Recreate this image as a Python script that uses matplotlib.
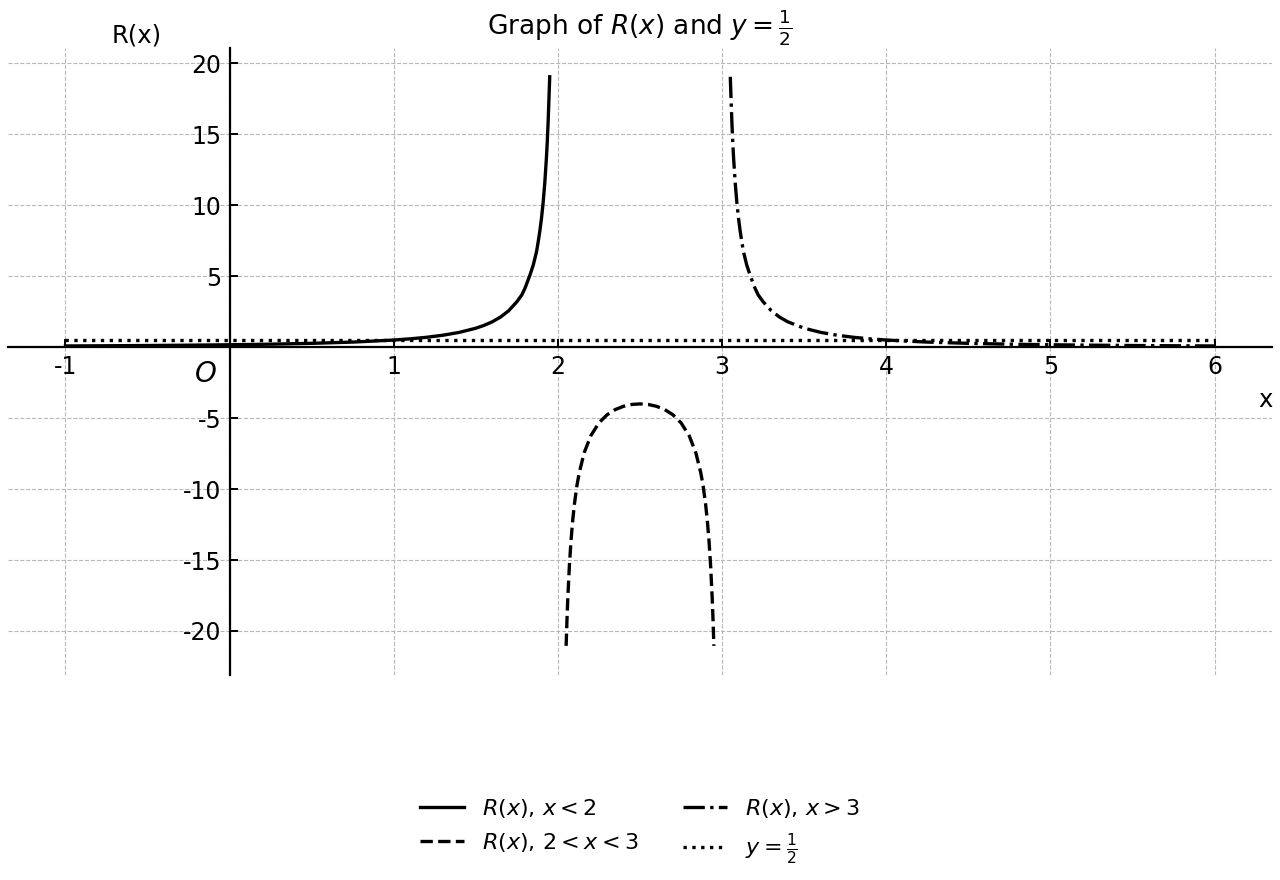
import matplotlib
matplotlib.use("Agg")
import matplotlib.pyplot as plt

# R(x), left branch (x < 2)
x_left = [-1.0, -0.75, -0.5, -0.25, 0.0, 0.25, 0.5, 0.75, 1.0, 1.1, 1.2, 1.3,
          1.4, 1.5, 1.55, 1.6, 1.65, 1.7, 1.75, 1.78, 1.8, 1.83, 1.85, 1.87,
          1.88, 1.89, 1.9, 1.91, 1.92, 1.93, 1.935, 1.94, 1.945, 1.95]
y_left = [0.083, 0.097, 0.114, 0.137, 0.167, 0.208, 0.267, 0.356, 0.5, 0.585,
          0.694, 0.840, 1.042, 1.333, 1.533, 1.786, 2.116, 2.564, 3.2, 3.68,
          4.167, 5.09, 5.797, 6.74, 7.44, 8.19, 9.09, 10.2, 11.57, 13.35,
          14.45, 15.77, 17.36, 19.05]

# middle branch (2 < x < 3)
x_mid = [2.05, 2.055, 2.06, 2.07, 2.08, 2.09, 2.1, 2.115, 2.13, 2.16, 2.2,
         2.25, 2.3, 2.35, 2.4, 2.45, 2.5, 2.55, 2.6, 2.65, 2.7, 2.75, 2.8,
         2.84, 2.87, 2.885, 2.9, 2.91, 2.92, 2.93, 2.94, 2.945, 2.95]
y_mid = [-21.05, -19.25, -17.73, -15.36, -13.59, -12.21, -11.11, -9.80,
         -8.84, -7.44, -6.25, -5.333, -4.762, -4.396, -4.167, -4.040, -4.0,
         -4.040, -4.167, -4.396, -4.762, -5.333, -6.25, -7.44, -8.84, -9.80,
         -11.11, -12.21, -13.59, -15.36, -17.73, -19.25, -21.05]

# right branch (x > 3)
x_right = [3.05, 3.055, 3.06, 3.065, 3.07, 3.08, 3.09, 3.1, 3.11, 3.12, 3.13,
           3.15, 3.17, 3.2, 3.22, 3.25, 3.3, 3.35, 3.4, 3.5, 3.6, 3.7, 3.8,
           3.9, 4.0, 4.25, 4.5, 4.75, 5.0, 5.25, 5.5, 5.75, 6.0]
y_right = [19.05, 17.36, 15.77, 14.45, 13.35, 11.57, 10.2, 9.09, 8.19, 7.44,
           6.74, 5.797, 5.09, 4.167, 3.68, 3.2, 2.564, 2.116, 1.786, 1.333,
           1.042, 0.840, 0.694, 0.585, 0.5, 0.356, 0.267, 0.208, 0.167, 0.137,
           0.114, 0.097, 0.083]

# horizontal line y = 1/2
x_half = [-1, 6]
y_half = [0.5, 0.5]

xticks = [-1, 1, 2, 3, 4, 5, 6]
yticks = [-20, -15, -10, -5, 5, 10, 15, 20]

fig = plt.figure(figsize=(12.8, 8.8), dpi=100)
ax = fig.add_axes([0.00625, 0.233, 0.9875, 0.712])

ax.plot(x_left, y_left, color="black", lw=2.4, ls="-", label=r"$R(x)$, $x < 2$")
ax.plot(x_mid, y_mid, color="black", lw=2.4, ls="--", label=r"$R(x)$, $2 < x < 3$")
ax.plot(x_right, y_right, color="black", lw=2.4, ls="-.", label=r"$R(x)$, $x > 3$")
ax.plot(x_half, y_half, color="black", lw=2.4, ls=":", label=r"$y = \frac{1}{2}$")

ax.set_xlim(-1.35, 6.35)
ax.set_ylim(-23.1, 21.05)

ax.spines["left"].set_position(("data", 0))
ax.spines["bottom"].set_position(("data", 0))
ax.spines["top"].set_visible(False)
ax.spines["right"].set_visible(False)
ax.spines["left"].set_linewidth(1.6)
ax.spines["bottom"].set_linewidth(1.6)

ax.set_xticks(xticks)
ax.set_xticklabels([str(t) for t in xticks])
ax.set_yticks(yticks)
ax.set_yticklabels([str(t) for t in yticks])
ax.tick_params(direction="in", length=6, width=1.4, labelsize=17, pad=6)

# grid lines, including the ones hidden under the zero axes
for gx in [-1, 0, 1, 2, 3, 4, 5, 6]:
    ax.axvline(gx, color="#b8b8b8", ls="--", lw=0.8, zorder=0)
for gy in [-20, -15, -10, -5, 0, 5, 10, 15, 20]:
    ax.axhline(gy, color="#b8b8b8", ls="--", lw=0.8, zorder=0)

ax.set_title(r"Graph of $R(x)$ and $y = \frac{1}{2}$", fontsize=19, pad=8)
ax.text(0.102, 1.02, "R(x)", transform=ax.transAxes, fontsize=17.5,
        ha="center", va="center")
ax.text(0.995, 0.4386, "x", transform=ax.transAxes, fontsize=17.5,
        ha="center", va="center")
ax.text(-0.15, -1.9, "$O$", fontsize=20, ha="center", va="center")

fig.legend(loc="center", bbox_to_anchor=(0.5, 0.055), ncol=2, frameon=False,
           fontsize=16)

plt.savefig("out.png", dpi=100)
